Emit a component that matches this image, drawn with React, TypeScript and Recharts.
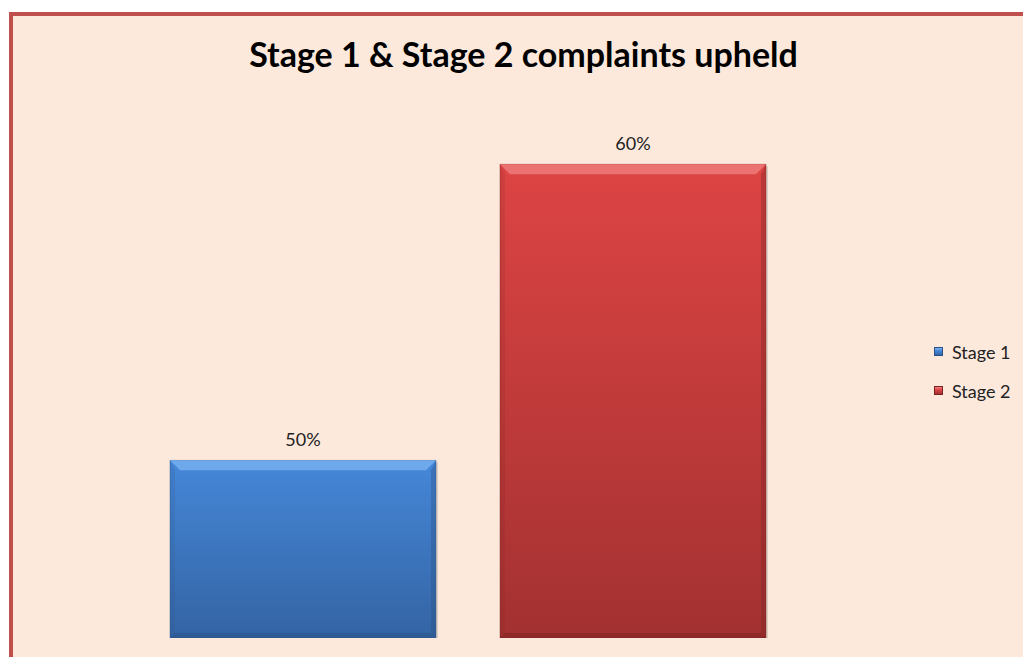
import React from "react";
import { BarChart, Bar, XAxis, YAxis, LabelList, Legend } from "recharts";

const categories = ["Complaints upheld"];
const stage1Values = [0.5];
const stage2Values = [0.6];
const seriesNames = ["Stage 1", "Stage 2"];
const yDomain = [0.44, 0.62];

const data = categories.map((c, i) => ({
  name: c,
  stage1: stage1Values[i],
  stage2: stage2Values[i],
}));

const palettes: Record<string, { top: string; bottom: string; bevel: string; dark: string }> = {
  stage1: { top: "#4587d8", bottom: "#3464a4", bevel: "#7cb5f2", dark: "#2a4f82" },
  stage2: { top: "#de4444", bottom: "#a33131", bevel: "#f08080", dark: "#7a2222" },
};

const FONT = "Lato, 'Open Sans', sans-serif";

const BevelBar = (props: any) => {
  const { x, y, width, height, dataKey } = props;
  const p = palettes[dataKey] || palettes.stage1;
  const id = "grad-" + dataKey;
  const b = 10;
  return (
    <g>
      <defs>
        <linearGradient id={id} x1="0" y1="0" x2="0" y2="1">
          <stop offset="0%" stopColor={p.top} />
          <stop offset="100%" stopColor={p.bottom} />
        </linearGradient>
      </defs>
      <rect x={x + 2} y={y + 2} width={width} height={height} fill="rgba(0,0,0,0.12)" />
      <rect x={x} y={y} width={width} height={height} fill={`url(#${id})`} stroke={p.dark} strokeOpacity={0.5} strokeWidth={0.8} />
      <polygon
        points={`${x},${y} ${x + width},${y} ${x + width - b},${y + b} ${x + b},${y + b}`}
        fill={p.bevel}
        opacity={0.75}
      />
      <polygon
        points={`${x + width},${y} ${x + width},${y + height} ${x + width - 5},${y + height - 5} ${x + width - 5},${y + b}`}
        fill={p.dark}
        opacity={0.35}
      />
      <polygon
        points={`${x},${y + height} ${x + width},${y + height} ${x + width - 5},${y + height - 5} ${x + 5},${y + height - 5}`}
        fill={p.dark}
        opacity={0.45}
      />
      <polygon
        points={`${x},${y} ${x + 5},${y + b} ${x + 5},${y + height - 5} ${x},${y + height}`}
        fill={p.dark}
        opacity={0.15}
      />
    </g>
  );
};

const LegendContent = () => (
  <div style={{ fontFamily: FONT, fontSize: 18, color: "#222" }}>
    {seriesNames.map((n, i) => {
      const p = palettes[i === 0 ? "stage1" : "stage2"];
      return (
        <div key={n} style={{ display: "flex", alignItems: "center", height: 39 }}>
          <span
            style={{
              display: "inline-block",
              width: 9,
              height: 9,
              background: `linear-gradient(${p.bevel} 0%, ${p.top} 40%, ${p.bottom} 100%)`,
              border: `1px solid ${p.dark}`,
              boxSizing: "border-box",
              marginRight: 9,
            }}
          />
          <span>{n}</span>
        </div>
      );
    })}
  </div>
);

export default function App() {
  return (
    <div
      style={{
        position: "absolute",
        left: 0,
        top: 0,
        width: 1023,
        height: 657,
        background: "#ffffff",
        overflow: "hidden",
      }}
    >
      <div
        style={{
          position: "absolute",
          left: 9,
          top: 12,
          width: 1100,
          height: 700,
          background: "#fce9dc",
          borderLeft: "4px solid #c0504d",
          borderTop: "4px solid #c0504d",
        }}
      />
      <div
        style={{
          position: "absolute",
          left: 0,
          top: 33,
          width: 1047,
          textAlign: "center",
          fontFamily: FONT,
          fontWeight: 700,
          fontSize: 34,
          color: "#000",
        }}
      >
        Stage 1 &amp; Stage 2 complaints upheld
      </div>
      <div style={{ position: "absolute", left: 0, top: 0 }}>
        <BarChart
          width={1023}
          height={657}
          data={data}
          margin={{ top: 105, bottom: 19, left: 100, right: 97 }}
          barSize={266}
          barGap={64}
        >
          <XAxis dataKey="name" hide />
          <YAxis hide domain={yDomain} allowDataOverflow />
          <Legend
            layout="vertical"
            align="right"
            verticalAlign="top"
            content={LegendContent as any}
            wrapperStyle={{ position: "absolute", left: 934, top: 332, width: 90 }}
          />
          <Bar dataKey="stage1" name={seriesNames[0]} fill="#4587d8" shape={BevelBar} isAnimationActive={false}>
            <LabelList
              dataKey="stage1"
              position="top"
              offset={14}
              formatter={(v: any) => `${Math.round(Number(v) * 100)}%`}
              style={{ fontFamily: FONT, fontSize: 18, fill: "#222" }}
            />
          </Bar>
          <Bar dataKey="stage2" name={seriesNames[1]} fill="#de4444" shape={BevelBar} isAnimationActive={false}>
            <LabelList
              dataKey="stage2"
              position="top"
              offset={14}
              formatter={(v: any) => `${Math.round(Number(v) * 100)}%`}
              style={{ fontFamily: FONT, fontSize: 18, fill: "#222" }}
            />
          </Bar>
        </BarChart>
      </div>
    </div>
  );
}
